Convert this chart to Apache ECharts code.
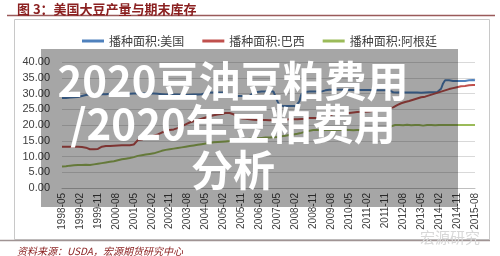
<!DOCTYPE html>
<html lang="zh">
<head>
<meta charset="UTF-8">
<title>播种面积</title>
<script src="https://cdn.jsdelivr.net/npm/echarts@6/dist/echarts.min.js"></script>
<style>
  html, body { margin: 0; padding: 0; background: #fff; }
</style>
</head>
<body>
<div id="main" style="width: 500px;height: 256px;"></div>
<script>
// months 1998-05 .. 2015-08
var months = [];
for (var y = 1998; y <= 2015; y++) {
  for (var m = 1; m <= 12; m++) {
    if (y === 1998 && m < 5) continue;
    if (y === 2015 && m > 8) continue;
    months.push(y + '-' + (m < 10 ? '0' + m : m));
  }
}

var seriesNames = ['播种面积:美国', '播种面积:巴西', '播种面积:阿根廷'];
var colors = ['#4F81BD', '#C0504D', '#9BBB59'];

var usArea = [
  28.6, 28.6, 28.6, 28.7, 28.7, 28.8, 28.8, 28.9,
  28.9, 29.0, 29.2, 29.4, 29.5, 29.6, 29.7, 29.7, 29.8, 29.8, 29.8, 29.8,
  29.8, 29.8, 29.8, 29.8, 29.9, 30.0, 30.0, 30.0, 29.9, 29.9, 29.9, 29.9,
  29.9, 29.9, 29.9, 29.9, 30.0, 30.1, 30.0, 30.0, 30.0, 30.0, 30.0, 30.0,
  30.0, 30.0, 30.0, 30.0, 29.9, 29.8, 29.8, 29.8, 29.7, 29.7, 29.7, 29.7,
  29.7, 29.7, 29.7, 29.7, 29.6, 29.5, 29.5, 29.6, 29.6, 29.7, 29.7, 29.7,
  29.7, 29.7, 29.8, 29.9, 30.1, 30.2, 30.3, 30.3, 30.3, 30.3, 30.3, 30.3,
  30.3, 30.3, 30.3, 30.2, 29.6, 29.4, 29.3, 29.2, 29.2, 29.2, 29.2, 29.2,
  29.2, 29.2, 29.3, 29.6, 30.2, 30.4, 30.5, 30.5, 30.6, 30.6, 30.6, 30.6,
  30.6, 30.6, 30.6, 30.2, 27.5, 26.3, 26.0, 26.0, 26.0, 26.0, 26.0, 26.0,
  26.0, 26.0, 26.4, 27.5, 29.8, 30.3, 30.5, 30.6, 30.6, 30.6, 30.6, 30.6,
  30.6, 30.6, 30.6, 30.7, 31.0, 31.2, 31.2, 31.2, 31.2, 31.2, 31.2, 31.2,
  31.2, 31.2, 31.2, 31.2, 31.1, 31.1, 31.1, 31.1, 31.1, 31.1, 31.1, 31.1,
  31.1, 31.1, 31.1, 31.1, 31.0, 31.0, 31.0, 31.0, 31.0, 31.0, 31.0, 31.0,
  31.0, 30.8, 30.4, 30.3, 30.3, 30.3, 30.4, 30.4, 30.3, 30.3, 30.3, 30.3,
  30.3, 30.3, 30.3, 30.2, 30.2, 30.3, 30.3, 30.4, 30.4, 30.4, 30.4, 30.4,
  30.4, 30.6, 31.5, 33.2, 34.2, 34.3, 34.2, 34.0, 34.0, 34.0, 34.0, 34.0,
  34.0, 34.0, 34.0, 34.1, 34.2, 34.3, 34.3, 34.2
];

var brazilArea = [
  13.1, 13.1, 13.1, 13.1, 13.1, 13.1, 13.1, 13.1,
  13.1, 13.1, 13.0, 13.0, 12.8, 12.4, 12.3, 12.3, 12.3, 12.4, 12.4, 12.8,
  13.1, 13.2, 13.3, 13.3, 13.3, 13.4, 13.4, 13.4, 13.5, 13.5, 13.6, 13.6,
  13.6, 13.6, 13.6, 13.7, 13.8, 14.2, 15.2, 15.3, 15.4, 15.8, 16.0, 16.0,
  16.2, 16.4, 16.6, 16.8, 17.0, 17.3, 17.6, 17.8, 18.0, 18.2, 18.4, 18.4,
  18.6, 18.8, 19.0, 19.3, 19.6, 19.9, 20.2, 20.5, 20.8, 21.0, 21.2, 21.4,
  21.6, 21.8, 22.0, 22.2, 22.4, 22.6, 22.8, 23.0, 23.1, 23.2, 23.3, 23.4,
  23.5, 23.7, 23.8, 23.8, 23.8, 23.7, 23.4, 22.8, 22.4, 22.2, 22.1, 22.0,
  22.0, 21.9, 21.8, 21.8, 21.7, 21.7, 21.6, 21.6, 21.6, 21.6, 21.6, 21.6,
  21.5, 21.5, 21.5, 21.6, 21.6, 21.6, 21.6, 21.7, 21.7, 21.7, 21.8, 21.8,
  21.8, 21.8, 21.8, 21.8, 21.9, 22.0, 22.0, 22.1, 22.2, 22.2, 22.2, 22.2,
  22.2, 22.2, 22.1, 22.1, 22.2, 22.6, 23.0, 23.3, 23.5, 23.6, 23.7, 23.8,
  23.8, 23.8, 23.8, 23.8, 23.8, 23.9, 24.0, 24.0, 24.1, 24.2, 24.2, 24.2,
  24.2, 24.2, 24.3, 24.4, 24.5, 24.6, 24.8, 24.9, 25.0, 25.1, 25.2, 25.2,
  25.3, 25.4, 25.6, 25.9, 26.3, 26.6, 26.9, 27.1, 27.3, 27.4, 27.6, 27.8,
  28.0, 28.2, 28.4, 28.6, 28.8, 28.9, 29.0, 29.2, 29.4, 29.6, 29.8, 30.0,
  30.2, 30.5, 30.6, 30.8, 31.0, 31.2, 31.4, 31.6, 31.7, 31.8, 32.0, 32.2,
  32.3, 32.4, 32.4, 32.5, 32.6, 32.6, 32.7, 32.7
];

var argentinaArea = [
  6.8, 6.8, 6.9, 7.0, 7.1, 7.2, 7.2, 7.3,
  7.3, 7.3, 7.3, 7.4, 7.4, 7.3, 7.3, 7.4, 7.5, 7.6, 7.7, 7.8,
  7.9, 8.0, 8.1, 8.2, 8.3, 8.4, 8.5, 8.6, 8.8, 9.0, 9.1, 9.2,
  9.3, 9.4, 9.5, 9.6, 9.8, 10.0, 10.2, 10.3, 10.4, 10.5, 10.6, 10.7,
  10.8, 10.9, 11.0, 11.2, 11.4, 11.6, 11.8, 12.0, 12.1, 12.2, 12.3, 12.4,
  12.5, 12.6, 12.7, 12.8, 12.9, 13.0, 13.1, 13.2, 13.3, 13.4, 13.5, 13.6,
  13.7, 13.8, 13.9, 14.0, 14.1, 14.2, 14.3, 14.4, 14.5, 14.6, 14.6, 14.7,
  14.7, 14.8, 14.8, 14.9, 14.9, 15.0, 15.1, 15.2, 15.3, 15.3, 15.4, 15.4,
  15.5, 15.5, 15.6, 15.6, 15.7, 15.7, 15.8, 15.8, 15.9, 15.9, 16.0, 16.0,
  16.0, 16.1, 16.1, 16.2, 16.2, 16.3, 16.4, 16.5, 16.6, 16.7, 16.8, 16.9,
  17.0, 17.1, 17.2, 17.3, 17.5, 17.7, 17.9, 18.0, 18.2, 18.3, 18.4, 18.4,
  18.4, 18.4, 18.3, 18.3, 18.4, 18.4, 18.5, 18.5, 18.4, 18.4, 18.4, 18.4,
  18.4, 18.5, 18.5, 18.5, 18.4, 18.4, 18.3, 18.3, 18.4, 18.4, 18.4, 18.4,
  18.4, 18.4, 18.5, 18.5, 18.4, 18.4, 18.4, 18.4, 18.4, 18.5, 18.5, 18.6,
  18.8, 19.6, 20.0, 20.0, 20.1, 20.0, 19.9, 19.9, 20.0, 20.1, 20.0, 19.9,
  19.9, 20.0, 20.1, 20.0, 19.9, 19.8, 19.9, 20.0, 20.0, 20.0, 19.9, 19.9,
  19.9, 20.0, 20.0, 20.0, 20.1, 20.0, 20.0, 20.0, 20.0, 20.0, 20.0, 20.0,
  20.0, 20.0, 20.0, 20.0, 20.0, 20.0, 20.0, 20.0
];

var overlayLines = ['2020豆油豆粕费用', '/2020年豆粕费用', '分析'];

var chartDom = document.getElementById('main');
var myChart = echarts.init(chartDom);
var cjk = '"Noto Sans CJK SC", sans-serif';

var graphics = [
  { type: 'line', z: 1, shape: { x1: 7, y1: 15.5, x2: 495, y2: 15.5 },
    style: { stroke: '#9a5a5a', lineWidth: 1.5 } },
  { type: 'rect', z: 1, shape: { x: 14.5, y: 19.5, width: 475, height: 220 },
    style: { fill: null, stroke: '#c8c8c8', lineWidth: 1 } },
  { type: 'line', z: 1, shape: { x1: 0, y1: 240.5, x2: 490, y2: 240.5 },
    style: { stroke: '#a09494', lineWidth: 1.5 } },
  { type: 'text', z: 1, x: 17, y: 9,
    style: { text: '图 3：美国大豆产量与期末库存', fill: '#8b2020', font: 'bold 13px ' + cjk,
      textVerticalAlign: 'middle' } },
  { type: 'text', z: 1, x: 17, y: 251,
    style: { text: '资料来源：USDA，宏源期货研究中心', fill: '#8b2020', font: 'italic 10px ' + cjk,
      textVerticalAlign: 'middle' } },
  { type: 'text', z: 1, x: 420, y: 237,
    style: { text: '宏源研究', fill: '#d8d8d8', font: '15px ' + cjk, textVerticalAlign: 'middle' } },
  { type: 'rect', z: 100, shape: { x: 41, y: 49, width: 417, height: 158 },
    style: { fill: 'rgba(0,0,0,0.35)' } }
];
var lineY = [81, 124, 170];
overlayLines.forEach(function (t, i) {
  graphics.push({
    type: 'text', z: 101, x: 233, y: lineY[i],
    style: { text: t, fill: '#ffffff', font: 'bold 42px ' + cjk,
      textAlign: 'center', textVerticalAlign: 'middle' }
  });
});

var option = {
  animation: false,
  color: colors,
  legend: {
    left: 77,
    top: 30,
    icon: 'rect',
    itemWidth: 22,
    itemHeight: 3,
    itemGap: 18,
    textStyle: { fontSize: 12, color: '#404040', fontFamily: cjk },
    data: seriesNames
  },
  grid: { left: 62, right: 25, top: 62, bottom: 68 },
  xAxis: {
    type: 'category',
    data: months,
    boundaryGap: false,
    axisTick: { show: false },
    axisLine: { lineStyle: { color: '#bfbfbf' } },
    axisLabel: {
      interval: 8,
      rotate: 90,
      margin: 5,
      fontSize: 10,
      color: '#404040',
      fontFamily: 'Liberation Sans'
    }
  },
  yAxis: {
    type: 'value',
    min: 0,
    max: 40,
    interval: 5,
    axisLine: { show: false },
    axisTick: { show: false },
    splitLine: { lineStyle: { color: '#d9d9d9' } },
    axisLabel: {
      margin: 12,
      fontSize: 11,
      color: '#404040',
      fontFamily: 'Liberation Sans',
      formatter: function (v) { return v.toFixed(2); }
    }
  },
  graphic: graphics,
  series: [
    { name: seriesNames[0], type: 'line', data: usArea, showSymbol: false, lineStyle: { width: 2 } },
    { name: seriesNames[1], type: 'line', data: brazilArea, showSymbol: false, lineStyle: { width: 2 } },
    { name: seriesNames[2], type: 'line', data: argentinaArea, showSymbol: false, lineStyle: { width: 2 } }
  ]
};

myChart.setOption(option);
</script>
</body>
</html>
